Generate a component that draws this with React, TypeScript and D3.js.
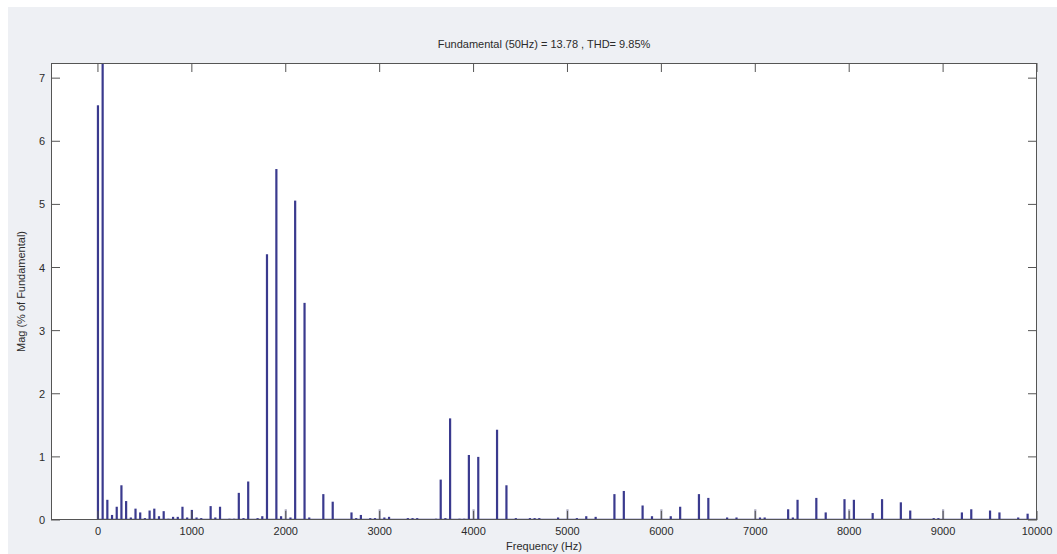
import React from "react";
import * as d3 from "d3";

const title = "Fundamental (50Hz) = 13.78 , THD= 9.85%";
const xLabel = "Frequency (Hz)";
const yLabel = "Mag (% of Fundamental)";

const xTicks = [0, 1000, 2000, 3000, 4000, 5000, 6000, 7000, 8000, 9000, 10000];
const yTicks = [0, 1, 2, 3, 4, 5, 6, 7];

// harmonic frequency (Hz) and magnitude (% of fundamental)
const freqs = [
  0, 50, 100, 150, 200, 250, 300, 350, 400, 450, 500, 550, 600, 650, 700, 750,
  800, 850, 900, 950, 1000, 1050, 1100, 1200, 1250, 1300, 1400, 1450, 1500,
  1550, 1600, 1700, 1750, 1800, 1900, 1950, 2050, 2100, 2200, 2250, 2400, 2500,
  2700, 2750, 2800, 2900, 2950, 3050, 3100, 3300, 3350, 3400, 3600, 3650, 3700,
  3750, 3850, 3900, 3950, 4050, 4250, 4350, 4450, 4600, 4650, 4700, 4900, 5100,
  5200, 5300, 5500, 5600, 5800, 5900, 6100, 6200, 6400, 6500, 6700, 6800, 7050,
  7100, 7350, 7400, 7450, 7650, 7750, 7950, 8050, 8250, 8350, 8550, 8650, 8900,
  8950, 9200, 9300, 9500, 9600, 9800, 9900,
];
const mags = [
  6.57, 100, 0.32, 0.08, 0.21, 0.55, 0.3, 0.04, 0.18, 0.12, 0.03, 0.15, 0.18,
  0.06, 0.14, 0.02, 0.05, 0.05, 0.21, 0.04, 0.16, 0.04, 0.03, 0.22, 0.04, 0.21,
  0.02, 0.02, 0.43, 0.03, 0.61, 0.03, 0.06, 4.21, 5.56, 0.06, 0.04, 5.06, 3.44,
  0.04, 0.41, 0.29, 0.12, 0.03, 0.08, 0.03, 0.03, 0.04, 0.05, 0.03, 0.03, 0.03,
  0.02, 0.64, 0.03, 1.61, 0.02, 0.02, 1.03, 1.0, 1.43, 0.55, 0.03, 0.03, 0.03,
  0.03, 0.04, 0.03, 0.06, 0.05, 0.41, 0.46, 0.23, 0.06, 0.06, 0.21, 0.41, 0.35,
  0.04, 0.04, 0.04, 0.04, 0.17, 0.04, 0.32, 0.35, 0.12, 0.33, 0.32, 0.11, 0.33,
  0.28, 0.15, 0.03, 0.03, 0.12, 0.17, 0.15, 0.12, 0.04, 0.1,
];
// faint bars at the kHz multiples
const faintFreqs = [2000, 3000, 4000, 5000, 6000, 7000, 8000, 9000];
const faintMags = [0.17, 0.17, 0.17, 0.17, 0.17, 0.17, 0.17, 0.17];

const W = 1057;
const H = 554;
const plot = { left: 51, top: 63, right: 1037, bottom: 520 };
const font = "'Liberation Sans', Arial, sans-serif";
const textColor = "#2b2b2b";
const barColor = "#3a3a8e";

const App = () => {
  const x = d3.scaleLinear().domain([-500, 10000]).range([plot.left, plot.right]);
  const y = d3.scaleLinear().domain([0, 7.24]).range([plot.bottom, plot.top]);
  const barW = 2.2;
  const tick = 9;

  return (
    <svg
      width={W}
      height={H}
      style={{ position: "absolute", left: 0, top: 0, background: "#fff" }}
    >
      <defs>
        <clipPath id="plotClip">
          <rect
            x={plot.left}
            y={plot.top}
            width={plot.right - plot.left}
            height={plot.bottom - plot.top}
          />
        </clipPath>
      </defs>
      <rect x={8} y={7} width={W - 8} height={H - 7} fill="#eef0f4" />
      <rect
        x={plot.left}
        y={plot.top}
        width={plot.right - plot.left}
        height={plot.bottom - plot.top}
        fill="#fff"
      />

      <g clipPath="url(#plotClip)">
        {faintFreqs.map((f, i) => (
          <rect
            key={"f" + i}
            x={x(f) - barW / 2}
            y={y(faintMags[i])}
            width={barW}
            height={y(0) - y(faintMags[i])}
            fill="#a9a9bf"
          />
        ))}
        {freqs.map((f, i) => (
          <rect
            key={i}
            x={x(f) - barW / 2}
            y={y(mags[i])}
            width={barW}
            height={y(0) - y(mags[i])}
            fill={barColor}
          />
        ))}
        <line
          x1={x(0)}
          x2={x(10000)}
          y1={y(0) - 0.5}
          y2={y(0) - 0.5}
          stroke={barColor}
          strokeWidth={1.5}
        />
      </g>

      {/* axes box */}
      <rect
        x={plot.left + 0.5}
        y={plot.top + 0.5}
        width={plot.right - plot.left - 1}
        height={plot.bottom - plot.top - 1}
        fill="none"
        stroke="#555"
        strokeWidth={1}
      />
      {xTicks.map((t) => (
        <g key={"x" + t}>
          <line x1={x(t)} x2={x(t)} y1={plot.bottom} y2={plot.bottom - tick} stroke="#555" />
          <line x1={x(t)} x2={x(t)} y1={plot.top} y2={plot.top + tick} stroke="#555" />
          <text
            x={x(t)}
            y={plot.bottom + 15}
            textAnchor="middle"
            fontFamily={font}
            fontSize={11}
            fill={textColor}
          >
            {t}
          </text>
        </g>
      ))}
      {yTicks.map((t) => (
        <g key={"y" + t}>
          <line x1={plot.left} x2={plot.left + tick} y1={y(t)} y2={y(t)} stroke="#555" />
          <line x1={plot.right} x2={plot.right - tick} y1={y(t)} y2={y(t)} stroke="#555" />
          <text
            x={plot.left - 6}
            y={y(t) + 4}
            textAnchor="end"
            fontFamily={font}
            fontSize={11}
            fill={textColor}
          >
            {t}
          </text>
        </g>
      ))}

      <text
        x={(plot.left + plot.right) / 2}
        y={48}
        textAnchor="middle"
        fontFamily={font}
        fontSize={11}
        fill={textColor}
      >
        {title}
      </text>
      <text
        x={(plot.left + plot.right) / 2}
        y={550}
        textAnchor="middle"
        fontFamily={font}
        fontSize={11}
        fill={textColor}
      >
        {xLabel}
      </text>
      <text
        transform={`translate(25,${(plot.top + plot.bottom) / 2}) rotate(-90)`}
        textAnchor="middle"
        fontFamily={font}
        fontSize={11}
        fill={textColor}
      >
        {yLabel}
      </text>
    </svg>
  );
};

export default App;
